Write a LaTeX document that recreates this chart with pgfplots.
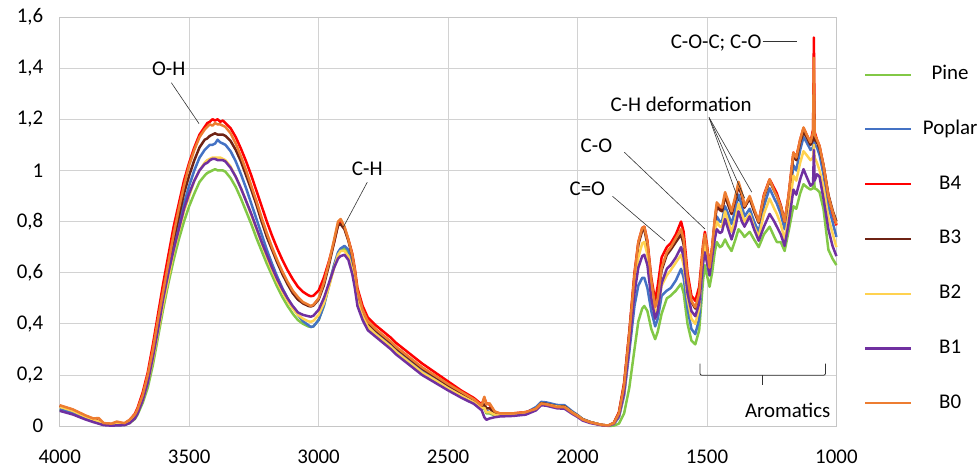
\documentclass[border=0pt]{standalone}
\usepackage{pgfplots}
\usepackage{pgfplotstable}
\pgfplotsset{compat=1.18}
\usepackage{fontspec}
\setmainfont{Carlito}

\definecolor{pinec}{RGB}{130,200,70}
\definecolor{poplarc}{RGB}{68,114,196}
\definecolor{b4c}{RGB}{255,0,0}
\definecolor{b3c}{RGB}{110,35,20}
\definecolor{b2c}{RGB}{255,210,80}
\definecolor{b1c}{RGB}{112,48,160}
\definecolor{b0c}{RGB}{237,125,49}

% FTIR spectra
\pgfplotstableread{
x    b0    b4    b3    poplar b2   b1    pine
4000 .082  .080  .078  .066  .076  .060  .064
3950 .066  .064  .062  .052  .060  .046  .050
3900 .042  .040  .038  .030  .037  .026  .030
3870 .030  .028  .027  .020  .026  .016  .020
3850 .032  .020  .019  .013  .018  .010  .012
3830 .012  .011  .010  .006  .010  .004  .006
3800 .010  .008  .008  .004  .007  .002  .004
3780 .018  .010  .009  .004  .008  .003  .004
3750 .012  .010  .010  .005  .009  .004  .005
3730 .025  .024  .020  .015  .018  .012  .012
3710 .045  .048  .040  .032  .035  .030  .028
3700 .065  .070  .060  .050  .052  .048  .044
3680 .12   .13   .115  .10   .10   .10   .09
3660 .20   .21   .19   .17   .17   .17   .15
3640 .30   .32   .29   .27   .26   .27   .24
3620 .42   .44   .41   .38   .37   .38   .35
3600 .53   .56   .52   .50   .48   .50   .46
3580 .64   .67   .63   .60   .58   .60   .56
3560 .75   .78   .73   .70   .68   .69   .65
3540 .85   .87   .82   .79   .76   .77   .73
3520 .94   .96   .91   .87   .84   .85   .80
3500 1.02  1.03  .98   .94   .90   .91   .86
3480 1.08  1.09  1.04  1.00  .96   .96   .91
3460 1.13  1.14  1.09  1.05  1.00  1.00  .955
3440 1.16  1.17  1.12  1.08  1.03  1.025 .98
3430 1.17  1.185 1.125 1.09  1.04  1.03  .99
3420 1.18  1.19  1.135 1.10  1.045 1.04  .995
3410 1.175 1.20  1.14  1.10  1.05  1.045 1.00
3400 1.185 1.195 1.145 1.105 1.05  1.045 1.005
3390 1.18  1.20  1.14  1.12  1.05  1.04  1.00
3380 1.18  1.19  1.14  1.11  1.05  1.04  1.00
3370 1.175 1.195 1.14  1.105 1.045 1.04  1.00
3360 1.17  1.185 1.135 1.10  1.04  1.035 .995
3340 1.145 1.165 1.115 1.075 1.015 1.01  .97
3320 1.105 1.13  1.08  1.035 .975  .975  .935
3300 1.055 1.085 1.035 .985  .93   .93   .89
3280 1.00  1.035 .98   .93   .88   .88   .84
3260 .94   .98   .925  .87   .825  .83   .79
3240 .88   .92   .865  .81   .77   .775  .735
3220 .815  .86   .80   .75   .715  .72   .685
3200 .755  .80   .74   .69   .66   .67   .635
3180 .70   .745  .69   .635  .61   .62   .59
3160 .65   .695  .64   .585  .565  .575  .545
3140 .605  .65   .595  .54   .525  .535  .505
3120 .565  .61   .555  .50   .49   .50   .47
3100 .53   .575  .52   .465  .46   .47   .44
3080 .505  .545  .495  .435  .435  .445  .415
3060 .485  .525  .48   .41   .42   .435  .40
3040 .475  .512  .47   .395  .41   .43   .39
3030 .47   .508  .468  .388  .408  .428  .388
3020 .475  .51   .472  .39   .412  .432  .39
3000 .50   .53   .495  .415  .435  .455  .415
2980 .56   .58   .55   .47   .48   .50   .47
2960 .64   .645  .63   .55   .545  .56   .55
2940 .73   .72   .72   .63   .62   .62   .63
2925 .80   .79   .785  .68   .67   .655  .675
2915 .81   .80   .79   .695  .685  .665  .69
2900 .78   .775  .77   .705  .685  .67   .695
2885 .73   .73   .725  .69   .665  .65   .675
2870 .67   .675  .665  .63   .61   .595  .615
2860 .61   .615  .60   .57   .555  .54   .56
2850 .53   .54   .52   .50   .49   .47   .49
2830 .455  .47   .445  .435  .43   .415  .425
2810 .41   .425  .40   .395  .39   .375  .385
2780 .38   .395  .375  .365  .36   .35   .355
2750 .355  .37   .35   .34   .335  .325  .33
2720 .33   .345  .325  .315  .31   .30   .305
2700 .31   .325  .305  .295  .29   .28   .285
2650 .27   .285  .265  .255  .25   .24   .245
2600 .23   .245  .225  .215  .21   .20   .205
2550 .198  .21   .193  .185  .18   .17   .175
2500 .165  .175  .16   .152  .148  .14   .145
2450 .135  .14   .13   .125  .12   .112  .118
2400 .105  .11   .10   .097  .093  .087  .092
2370 .08   .085  .078  .072  .07   .062  .068
2360 .115  .11   .085  .075  .072  .035  .07
2352 .085  .09   .07   .06   .055  .025  .05
2340 .09   .085  .07   .055  .055  .03   .05
2320 .058  .055  .052  .045  .045  .035  .042
2300 .05   .05   .048  .042  .043  .038  .041
2250 .05   .05   .048  .045  .045  .04   .045
2200 .055  .055  .053  .052  .05   .045  .05
2160 .068  .068  .068  .075  .068  .062  .07
2140 .088  .088  .09   .095  .088  .082  .09
2120 .085  .085  .087  .093  .085  .08   .088
2080 .075  .075  .078  .083  .077  .07   .078
2050 .074  .074  .077  .082  .075  .068  .077
2020 .052  .052  .054  .058  .053  .048  .055
2000 .04   .04   .042  .044  .041  .036  .042
1980 .026  .026  .027  .028  .026  .022  .027
1950 .015  .015  .016  .016  .015  .012  .016
1920 .008  .008  .008  .008  .008  .006  .008
1900 .004  .004  .004  .004  .004  .003  .004
1880 .003  .003  .003  .002  .003  .002  .001
1860 .012  .013  .012  .008  .01   .01   .002
1840 .05   .055  .05   .035  .04   .04   .01
1820 .16   .17   .16   .12   .13   .13   .05
1800 .36   .37   .36   .29   .32   .31   .15
1780 .59   .60   .58   .47   .53   .52   .30
1765 .72   .72   .71   .55   .66   .62   .41
1750 .775  .775  .765  .58   .715  .665  .46
1742 .78   .78   .77   .58   .72   .67   .47
1730 .72   .725  .71   .54   .67   .63   .45
1715 .57   .58   .56   .45   .53   .50   .38
1700 .465  .49   .47   .39   .44   .42   .34
1690 .50   .55   .50   .42   .46   .45   .37
1675 .62   .66   .61   .51   .55   .56   .44
1655 .68   .70   .67   .53   .59   .615  .50
1640 .70   .715  .69   .54   .61   .63   .51
1620 .735  .75   .72   .57   .64   .66   .53
1600 .77   .80   .75   .615  .67   .70   .557
1590 .73   .76   .71   .58   .63   .66   .52
1575 .58   .60   .56   .46   .50   .52   .40
1560 .49   .51   .485  .38   .42   .45   .335
1545 .465  .49   .46   .36   .40   .43   .32
1530 .52   .545  .51   .42   .46   .48   .375
1515 .70   .71   .69   .64   .66   .64   .57
1508 .75   .76   .74   .70   .71   .68   .63
1500 .70   .71   .69   .65   .66   .64   .59
1490 .62   .625  .615  .59   .60   .59   .545
1480 .70   .70   .69   .67   .66   .66   .60
1470 .81   .80   .795  .77   .75   .73   .68
1462 .875  .865  .86   .82   .80   .77   .72
1450 .86   .85   .845  .80   .78   .755  .70
1442 .855  .845  .84   .80   .78   .76   .705
1430 .915  .905  .90   .86   .84   .81   .73
1418 .88   .87   .865  .83   .80   .77   .705
1405 .84   .83   .83   .79   .76   .73   .685
1390 .90   .89   .89   .85   .81   .78   .73
1378 .955  .945  .94   .905  .87   .84   .77
1365 .91   .905  .90   .86   .83   .80   .755
1355 .86   .855  .855  .82   .80   .78   .74
1335 .90   .895  .89   .85   .83   .82   .76
1318 .85   .845  .84   .80   .78   .77   .73
1300 .80   .80   .795  .76   .74   .725  .70
1280 .90   .905  .895  .86   .83   .78   .75
1258 .965  .965  .96   .93   .89   .83   .78
1240 .92   .93   .92   .89   .85   .80   .74
1230 .90   .91   .90   .87   .83   .78   .72
1215 .86   .865  .86   .83   .79   .75   .72
1200 .80   .80   .80   .77   .73   .705  .685
1185 .90   .90   .89   .86   .82   .79   .76
1166 1.07  1.07  1.06  1.02  .98   .925  .86
1155 1.05  1.05  1.04  1.00  .96   .905  .85
1140 1.12  1.12  1.11  1.08  1.03  .965  .91
1127 1.168 1.165 1.15  1.13  1.075 1.005 .946
1115 1.14  1.14  1.13  1.11  1.06  .975  .935
1100 1.11  1.11  1.10  1.08  1.04  .94   .925
1090 1.15  1.16  1.12  1.09  1.05  .95   .93
1087 1.44  1.52  1.30  1.15  1.10  1.08  .98
1084 1.14  1.15  1.12  1.10  1.05  .96   .93
1075 1.12  1.12  1.11  1.09  1.03  .985  .925
1065 1.095 1.095 1.085 1.06  1.00  .975  .915
1050 1.02  1.02  1.02  .985  .935  .89   .85
1031 .90   .90   .905  .86   .815  .77   .69
1015 .84   .835  .845  .80   .755  .705  .655
1000 .79   .785  .80   .74   .70   .665  .63
}\ftir

\begin{document}
\begin{tikzpicture}[font=\fontsize{21bp}{25bp}\selectfont]
\begin{axis}[
    scale only axis,
    width=780bp, height=411bp,
    x dir=reverse,
    xmin=1000, xmax=4000,
    ymin=0, ymax=1.6,
    xtick={1000,1500,...,4000},
    ytick={0,0.2,...,1.6},
    /pgf/number format/.cd, use comma, 1000 sep={}, fixed, precision=1,
    assume math mode=true,
    /pgfplots/.cd,
    major tick length=0pt,
    xmajorgrids, ymajorgrids,
    grid style={gray!35, line width=0.8bp},
    axis line style={gray!45, line width=0.8bp},
    yticklabel style={xshift=-13bp},
    xticklabel style={yshift=-20bp},
    clip=false,
    every axis plot/.append style={line width=2.5bp, line join=round},
    legend image code/.code={\draw[#1, line width=2.2bp] (0bp,0bp) -- (46bp,0bp);},
    legend style={draw=none, fill=none, inner sep=0pt, outer sep=0pt,
        at={(axis description cs:1.0359,0.881)}, anchor=north west,
        row sep=37bp, column sep=9bp,
        nodes={text width=58bp, align=center, inner sep=0pt,
               text height=14bp, text depth=4bp}},
]
\addplot[pinec] table[x=x, y=pine] {\ftir};
\addplot[poplarc] table[x=x, y=poplar] {\ftir};
\addplot[b4c] table[x=x, y=b4] {\ftir};
\addplot[b3c] table[x=x, y=b3] {\ftir};
\addplot[b2c] table[x=x, y=b2] {\ftir};
\addplot[b1c] table[x=x, y=b1] {\ftir};
\addplot[b0c] table[x=x, y=b0] {\ftir};
\legend{Pine, Poplar, B4, B3, B2, B1, B0}

% annotations
\draw[black!80, line width=0.6bp] (axis cs:3569,1.343) -- (axis cs:3462,1.183);
\node at (axis cs:3579,1.398) {O-H};
\draw[black!80, line width=0.6bp] (axis cs:2812,0.954) -- (axis cs:2904,0.779);
\node at (axis cs:2812,1.008) {C-H};
\draw[black!80, line width=0.6bp] (axis cs:1865,0.899) -- (axis cs:1662,0.724);
\node at (axis cs:1962,0.927) {C=O};
\draw[black!80, line width=0.6bp] (axis cs:1819,1.071) -- (axis cs:1508,0.771);
\node at (axis cs:1927,1.098) {C-O};
\draw[black!80, line width=0.6bp] (axis cs:1492,1.207) -- (axis cs:1377,0.880);
\draw[black!80, line width=0.6bp] (axis cs:1492,1.207) -- (axis cs:1354,0.891);
\draw[black!80, line width=0.6bp] (axis cs:1492,1.207) -- (axis cs:1327,0.915);
\node at (axis cs:1600,1.257) {C-H deformation};
\draw[black!80, line width=0.6bp] (axis cs:1285,1.503) -- (axis cs:1154,1.503);
\node[anchor=east, inner sep=1bp] at (axis cs:1285,1.499) {C-O-C; C-O};
% aromatics bracket
\draw[black!80, line width=0.8bp, rounded corners=2bp]
    (axis cs:1527,0.245) -- (axis cs:1527,0.199) -- (axis cs:1042,0.199) -- (axis cs:1042,0.245);
\draw[black!80, line width=0.8bp] (axis cs:1285,0.199) -- (axis cs:1285,0.160);
\node at (axis cs:1188,0.060) {Aromatics};
% picture frame
\path (axis description cs:-0.0769,-0.0949) rectangle (axis description cs:1.1782,1.0414);
\end{axis}
\end{tikzpicture}
\end{document}
